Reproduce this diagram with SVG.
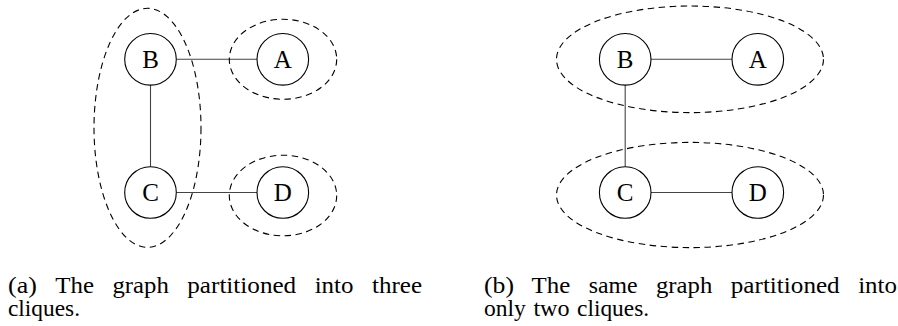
<svg xmlns="http://www.w3.org/2000/svg" width="898" height="326" viewBox="0 0 898 326">
<style>
.node{fill:#fff;stroke:#000;stroke-width:1.1}
.lbl{font-family:"Liberation Serif","Times New Roman",serif;font-size:25px;text-anchor:middle;fill:#000}
.edge{stroke:#444;stroke-width:1.1;fill:none}
.clq{fill:none;stroke:#000;stroke-width:1.1;stroke-dasharray:6.5 4.5}
.cap{font-family:"Liberation Serif","Times New Roman",serif;font-size:22.5px;fill:#000}
</style>
<rect width="898" height="326" fill="#fff"/>
<g id="connectors">
<line class="edge" x1="176.3" y1="59.3" x2="257" y2="59.3"/>
<line class="edge" x1="150.5" y1="85.1" x2="150.5" y2="166.7"/>
<line class="edge" x1="176.3" y1="192.5" x2="257" y2="192.5"/>
<line class="edge" x1="651" y1="59.3" x2="732" y2="59.3"/>
<line class="edge" x1="625.2" y1="85.1" x2="625.2" y2="166.7"/>
<line class="edge" x1="651" y1="192.5" x2="732" y2="192.5"/>
</g>
<g id="cliques-a">
<ellipse class="clq" cx="147.5" cy="127.8" rx="53.5" ry="119.5"/>
<ellipse class="clq" cx="283" cy="59.3" rx="53.7" ry="40"/>
<ellipse class="clq" cx="283" cy="195.5" rx="53.7" ry="40.3"/>
</g>
<g id="cliques-b">
<ellipse class="clq" cx="690" cy="59.3" rx="133.5" ry="53.3"/>
<ellipse class="clq" cx="690" cy="195" rx="133.5" ry="52.6"/>
</g>
<g id="a-B"><circle class="node" cx="150.5" cy="59.3" r="25.8"/><text class="lbl" x="150.5" y="67.5">B</text></g>
<g id="a-A"><circle class="node" cx="282.8" cy="59.3" r="25.8"/><text class="lbl" x="282.8" y="67.5">A</text></g>
<g id="a-C"><circle class="node" cx="150.5" cy="192.5" r="25.8"/><text class="lbl" x="150.5" y="200.7">C</text></g>
<g id="a-D"><circle class="node" cx="282.8" cy="192.5" r="25.8"/><text class="lbl" x="282.8" y="200.7">D</text></g>
<g id="b-B"><circle class="node" cx="625.2" cy="59.3" r="25.8"/><text class="lbl" x="625.2" y="67.5">B</text></g>
<g id="b-A"><circle class="node" cx="757.8" cy="59.3" r="25.8"/><text class="lbl" x="757.8" y="67.5">A</text></g>
<g id="b-C"><circle class="node" cx="625.2" cy="192.5" r="25.8"/><text class="lbl" x="625.2" y="200.7">C</text></g>
<g id="b-D"><circle class="node" cx="757.8" cy="192.5" r="25.8"/><text class="lbl" x="757.8" y="200.7">D</text></g>
<g id="caption-a">
<text class="cap" y="293"><tspan x="8" textLength="28.8" lengthAdjust="spacingAndGlyphs">(a)</tspan><tspan x="55.3" textLength="38.7" lengthAdjust="spacingAndGlyphs">The</tspan><tspan x="112.5" textLength="56.3" lengthAdjust="spacingAndGlyphs">graph</tspan><tspan x="187.3" textLength="108.9" lengthAdjust="spacingAndGlyphs">partitioned</tspan><tspan x="314.7" textLength="38.8" lengthAdjust="spacingAndGlyphs">into</tspan><tspan x="372" textLength="50" lengthAdjust="spacingAndGlyphs">three</tspan></text>
<text class="cap" x="8" y="316" textLength="72" lengthAdjust="spacingAndGlyphs">cliques.</text>
</g>
<g id="caption-b">
<text class="cap" y="293"><tspan x="484" textLength="30" lengthAdjust="spacingAndGlyphs">(b)</tspan><tspan x="531.5" textLength="38.7" lengthAdjust="spacingAndGlyphs">The</tspan><tspan x="588.7" textLength="48.8" lengthAdjust="spacingAndGlyphs">same</tspan><tspan x="656" textLength="56.3" lengthAdjust="spacingAndGlyphs">graph</tspan><tspan x="730.8" textLength="108.9" lengthAdjust="spacingAndGlyphs">partitioned</tspan><tspan x="858.2" textLength="38.8" lengthAdjust="spacingAndGlyphs">into</tspan></text>
<text class="cap" y="316"><tspan x="484" textLength="41.9" lengthAdjust="spacingAndGlyphs">only</tspan><tspan x="533.4" textLength="36.2" lengthAdjust="spacingAndGlyphs">two</tspan><tspan x="577.1" textLength="72" lengthAdjust="spacingAndGlyphs">cliques.</tspan></text>
</g>
</svg>
